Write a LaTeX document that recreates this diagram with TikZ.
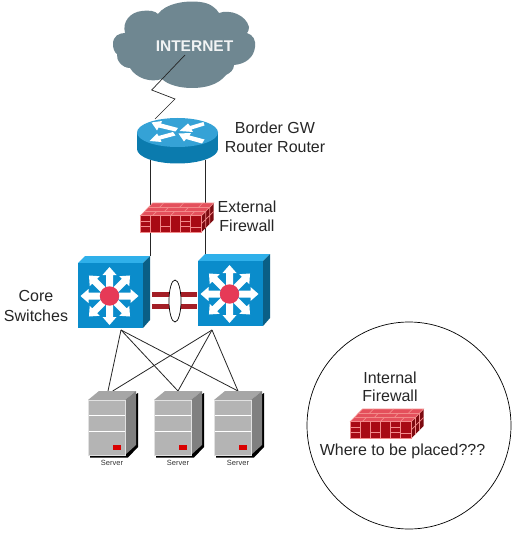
\documentclass[tikz,border=0pt]{standalone}
\usepackage{fontspec}
\usetikzlibrary{shapes.geometric}
\setmainfont{Liberation Sans}
\definecolor{cloudc}{HTML}{6F8791}
\definecolor{swfront}{HTML}{0A8CCB}
\definecolor{swtop}{HTML}{2FB0EA}
\definecolor{swside}{HTML}{0A5F86}
\definecolor{rttop}{HTML}{35A2D6}
\definecolor{rtside}{HTML}{0B7BAE}
\definecolor{hub}{HTML}{E63A57}
\definecolor{fwfront}{HTML}{A80A14}
\definecolor{fwtop}{HTML}{E4505C}
\definecolor{fwside}{HTML}{7D0A10}
\definecolor{fwline}{HTML}{F28A8A}
\definecolor{link}{HTML}{A31E26}
\definecolor{srvfront}{HTML}{B4B4B4}
\definecolor{srvtop}{HTML}{A6A6A6}
\definecolor{srvside}{HTML}{808080}
\tikzset{
  x=1pt,y=-1pt,
  lbl/.style={font=\fontsize{16}{18.5}\selectfont,text=black!85,inner sep=0pt,align=center},
  srvlbl/.style={font=\fontsize{7.5}{9}\selectfont,text=black!80,inner sep=0pt},
  wire/.style={draw=black!85,line width=0.8pt},
  mortar/.style={draw=fwline,line width=0.7pt},
  holder/.style={inner sep=0pt,draw=none},
}
% arrow along +x from the origin, length #2
\newcommand{\spoke}[2]{\fill[white,rotate=#1] (9,-3.5) -- (#2-8,-3.5) -- (#2-8,-7) -- (#2,0) -- (#2-8,7) -- (#2-8,3.5) -- (9,3.5) -- cycle;}
\newcommand{\switchicon}[2]{%
\begin{scope}[shift={(#1,#2)}]
  \fill[swtop] (0,0) -- (7,-7) -- (72,-7) -- (65,0) -- cycle;
  \fill[swside] (65,0) -- (72,-7) -- (72,57) -- (65,65) -- cycle;
  \fill[swfront] (0,0) rectangle (65,65);
  \begin{scope}[shift={(31.5,33)}]
    \foreach \a in {0,90,180,270} {\spoke{\a}{29}}
    \foreach \a in {45,135,225,315} {\spoke{\a}{29}}
    \fill[hub] (0,0) circle (9.7);
  \end{scope}
\end{scope}}
\newcommand{\firewallicon}[2]{%
\begin{scope}[shift={(#1,#2)}]
  \fill[fwtop] (0,0) -- (12,-12.5) -- (73,-12.5) -- (61,0) -- cycle;
  \fill[fwside] (61,0) -- (73,-12.5) -- (73,4.5) -- (61,16.5) -- cycle;
  \fill[fwfront] (0,0) rectangle (61,16.5);
  \draw[mortar] (0,0) rectangle (61,16.5);
  \draw[mortar] (0,5.5) -- (10,5.5) (0,11) -- (10,11) (20,11) -- (30,11) (40,11) -- (50,11) (40,5.5) -- (50,5.5) (50,11.5) -- (61,11.5);
  \foreach \v in {10,20,30,40,50} {\draw[mortar] (\v,0) -- (\v,16.5);}
  \draw[mortar] (12,-12.5) -- (73,-12.5) -- (61,0) -- (0,0) -- cycle;
  \draw[mortar] (4,-4.2) -- (65,-4.2) (8,-8.4) -- (69,-8.4);
  \foreach \s in {12,30,50} {\draw[mortar] (\s,0) -- ++(4,-4.2);}
  \foreach \s in {24,44} {\draw[mortar] (\s,-4.2) -- ++(4,-4.2);}
  \foreach \s in {19,39,58} {\draw[mortar] (\s,-8.4) -- ++(4,-4.1);}
  \draw[mortar] (65,-4) -- (65,12.5) (69,-8.5) -- (69,8.5) (61,8) -- (73,-4);
\end{scope}}
\newcommand{\servericon}[2]{%
\begin{scope}[shift={(#1,#2)}]
  \fill[black] (2,55) -- (2,57.5) -- (40,57.5) -- (50,47) -- (50,-7) -- (38,0) -- (38,55) -- cycle;
  \fill[srvtop] (0,0) -- (11,-9) -- (48,-9) -- (37,0) -- cycle;
  \fill[srvside] (37,0) -- (48,-9) -- (48,45) -- (37,55) -- cycle;
  \fill[srvfront] (0,0) rectangle (37,55);
  \draw[white,line width=0.7pt] (0,0) -- (37,0) (0,15.7) -- (37,15.7) (0,31.7) -- (37,31.7);
  \draw[white!60!srvfront,line width=0.5pt] (0,0) rectangle (37,55);
  \fill[red!85!black] (25,45) rectangle (33,50);
\end{scope}}
\begin{document}
\begin{tikzpicture}
\useasboundingbox (0,0) rectangle (522,545);
\fill[white] (0,0) rectangle (522,545);

% named connection points
\coordinate (inet) at (185,55);
\coordinate (z1) at (151.7,90);
\coordinate (z2) at (175,99);
\coordinate (rtTop) at (155,119);
\coordinate (rtL) at (150.7,160);
\coordinate (rtR) at (205,160);
\coordinate (swL) at (150.7,256);
\coordinate (swR) at (205,255);
\coordinate (swA) at (121,330);
\coordinate (swB) at (212,330);
\coordinate (srvAa) at (108,391);
\coordinate (srvAb) at (112.7,391);
\coordinate (srvB) at (178,391);
\coordinate (srvC) at (238,391);

% cloud
\fill[cloudc] (113,44)
  .. controls (113,36) and (119,33) .. (125,33)
  .. controls (122,22) and (130,12) .. (142,11)
  .. controls (150,10) and (155,11) .. (158,14)
  .. controls (165,4) and (185,0) .. (200,2)
  .. controls (210,3) and (216,8) .. (219,13)
  .. controls (230,9) and (246,15) .. (249,27)
  .. controls (249,30) and (248,32) .. (247,33)
  .. controls (253,35) and (256,40) .. (255,47)
  .. controls (254,57) and (246,64) .. (234,65)
  .. controls (234,70) and (230,73) .. (226,75)
  .. controls (218,85) and (205,88) .. (192,88)
  .. controls (180,88) and (168,85) .. (162,79)
  .. controls (150,83) and (136,78) .. (130,68)
  .. controls (122,68) and (116,60) .. (117,54)
  .. controls (114,52) and (113,48) .. (113,44) -- cycle;
\node[holder,font=\bfseries\fontsize{15.5}{18}\selectfont,text=white!90!cloudc] (internet) at (194.5,46) {INTERNET};

% wires
\draw[wire,line width=0.7pt] (inet) -- (z1) -- (z2) -- (rtTop);
\draw[wire] (rtL) -- (swL);
\draw[wire] (rtR) -- (swR);
\draw[wire] (swA) -- (srvAa);
\draw[wire] (swA) -- (srvB);
\draw[wire] (swA) -- (srvC);
\draw[wire] (swB) -- (srvAb);
\draw[wire] (swB) -- (srvB);
\draw[wire] (swB) -- (srvC);

% router
\fill[rtside] (177.5,149) ellipse [x radius=40.5,y radius=14.5];
\fill[rtside] (137,132.5) rectangle (218,149);
\fill[rttop] (177.5,132.5) ellipse [x radius=40.5,y radius=14.5];
\fill[white] (151.5,122.5) -- (162,121) -- (161,123.5) -- (178,128) -- (175.5,131.5) -- (158.5,127.5) -- (157,130.5) -- cycle;
\fill[white] (179.5,131) -- (188,123.5) -- (190,126) -- (203.5,122) -- (204.5,125.5) -- (191.5,129.5) -- (193,132) -- cycle;
\fill[white] (149.5,141) -- (157,133.5) -- (158.5,136) -- (173,132) -- (175.5,135.5) -- (160.5,139.5) -- (161.5,142) -- cycle;
\fill[white] (178.5,133.5) -- (191,133) -- (189.5,135.5) -- (204.5,139.5) -- (202,143.5) -- (186,139) -- (184,141.5) -- cycle;

% firewall
\firewallicon{140.7}{215.5}

% switches
\switchicon{78}{263}
\switchicon{198}{261}

% double link
\fill[link] (152,291.5) rectangle (197,297);
\fill[link] (152,303.5) rectangle (197,309);
\node[ellipse,draw=black,fill=white,line width=0.7pt,minimum width=12pt,minimum height=42pt,inner sep=0pt] (lag) at (175,301) {};

% servers
\servericon{88}{400}
\servericon{154}{400}
\servericon{214}{400}
\node[srvlbl] (s1) at (112,463) {Server};
\node[srvlbl] (s2) at (178,463) {Server};
\node[srvlbl] (s3) at (238,463) {Server};

% labels
\node[lbl] (bgw) at (275,137.5) {Border GW\\Router Router};
\node[lbl] (ext) at (247,216.5) {External\\Firewall};
\node[lbl,font=\fontsize{16}{20}\selectfont] (core) at (36,305.5) {Core\\Switches};

% zone
\node[ellipse,draw=black,line width=0.7pt,minimum width=204pt,minimum height=207pt,inner sep=0pt] (zone) at (409,425.5) {};
\node[lbl] (intfw) at (390,387) {Internal\\Firewall};
\firewallicon{350.5}{421.5}
\node[lbl] (where) at (402.5,451) {Where to be placed???};
\end{tikzpicture}
\end{document}
